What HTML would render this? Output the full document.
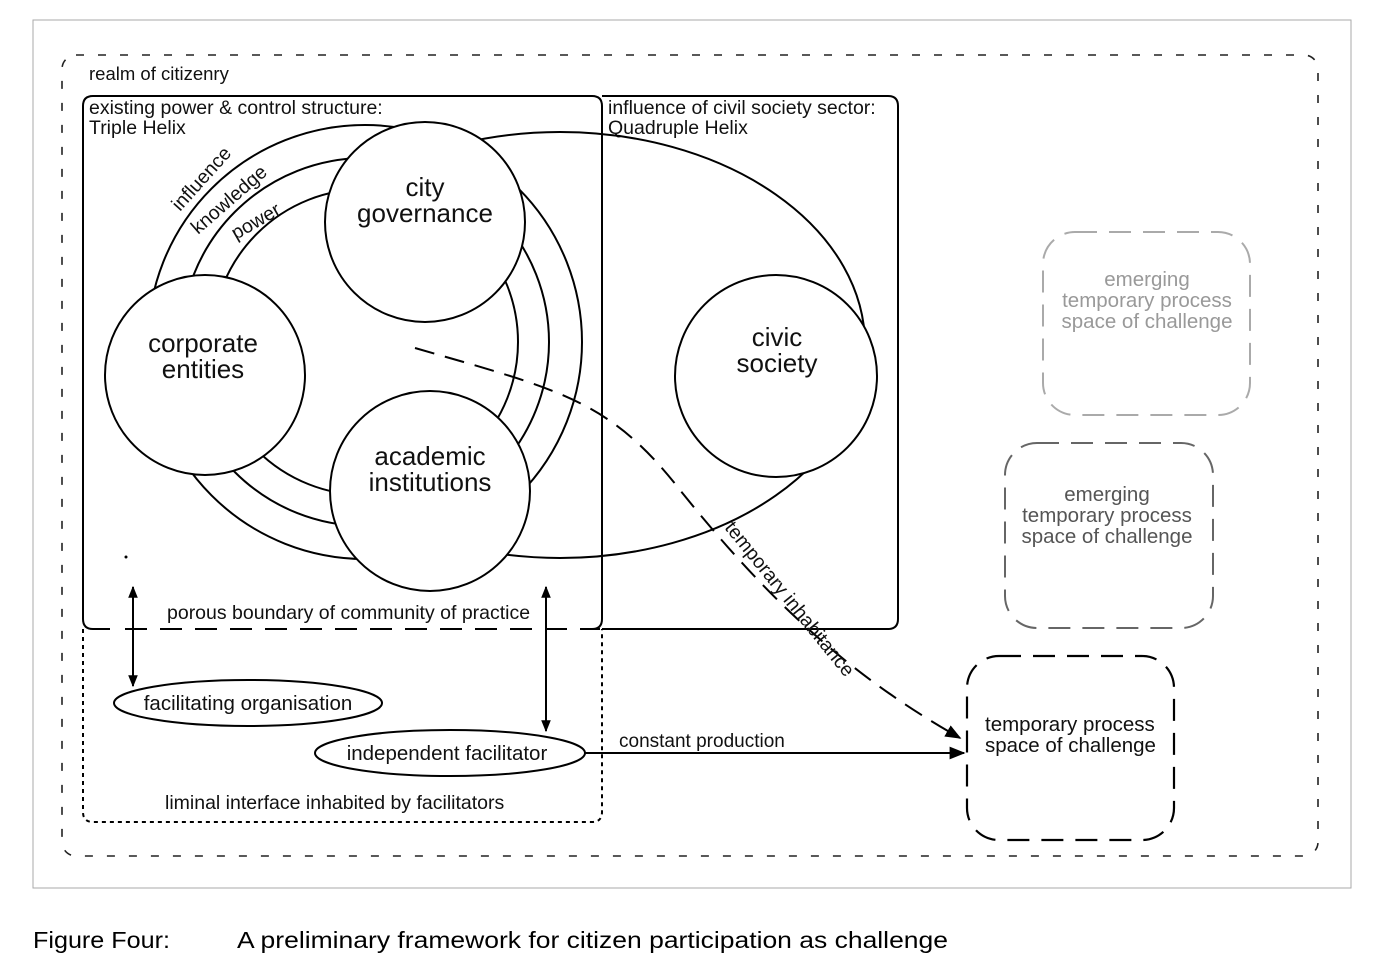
<!DOCTYPE html>
<html><head><meta charset="utf-8"><style>
html,body{margin:0;padding:0;background:#fff;width:1377px;height:960px;overflow:hidden}
svg{display:block}
text{font-family:"Liberation Sans",Arial,sans-serif;fill:#111}
</style></head><body>
<svg width="1377" height="960" viewBox="0 0 1377 960" xmlns="http://www.w3.org/2000/svg">
<defs>
<marker id="ah" viewBox="0 0 10 10" refX="9" refY="5" markerWidth="12" markerHeight="12" markerUnits="userSpaceOnUse" orient="auto-start-reverse"><path d="M0,1 L10,5 L0,9 z" fill="#000"/></marker>
<marker id="ah2" viewBox="0 0 10 10" refX="9" refY="5" markerWidth="16" markerHeight="16" markerUnits="userSpaceOnUse" orient="auto"><path d="M0,1 L10,5 L0,9 z" fill="#000"/></marker>
<clipPath id="cr"><rect x="462" y="0" width="600" height="960"/></clipPath>
</defs>
<rect x="33" y="20" width="1318" height="868" fill="#fff" stroke="#aaa" stroke-width="1"/>
<rect x="62" y="55" width="1256" height="801" rx="14" fill="none" stroke="#222" stroke-width="1.6" stroke-dasharray="8,14"/>
<text x="89" y="80" font-size="18.5">realm of citizenry</text>

<path d="M602,96 H888 Q898,96 898,106 V619 Q898,629 888,629 H602" fill="none" stroke="#000" stroke-width="2"/>
<path d="M110,629 H93 Q83,629 83,619 V106 Q83,96 93,96 H592 Q602,96 602,106 V619 Q602,629 592,629" fill="none" stroke="#000" stroke-width="2"/>
<line x1="125" y1="629" x2="600" y2="629" stroke="#000" stroke-width="2" stroke-dasharray="22,13"/>
<path d="M83,629 V812 Q83,822 93,822 H592 Q602,822 602,812 V629" fill="none" stroke="#000" stroke-width="2" stroke-dasharray="4,4"/>

<text x="89" y="114" font-size="19.5">existing power &amp; control structure:</text>
<text x="89" y="134" font-size="19.5">Triple Helix</text>
<text x="608" y="114" font-size="19.5">influence of civil society sector:</text>
<text x="608" y="134" font-size="19.5">Quadruple Helix</text>

<circle cx="365" cy="342" r="217" fill="none" stroke="#000" stroke-width="2"/>
<circle cx="365" cy="342" r="184" fill="none" stroke="#000" stroke-width="2"/>
<circle cx="365" cy="342" r="153" fill="none" stroke="#000" stroke-width="2"/>
<ellipse cx="560" cy="345" rx="305" ry="213" fill="none" stroke="#000" stroke-width="2" clip-path="url(#cr)"/>

<g fill="#fff" stroke="#000" stroke-width="2">
<circle cx="425" cy="222" r="100"/>
<circle cx="205" cy="375" r="100"/>
<circle cx="430" cy="491" r="100"/>
<circle cx="776" cy="376" r="101"/>
</g>
<g font-size="26" text-anchor="middle">
<text x="425" y="196">city</text><text x="425" y="222">governance</text>
<text x="203" y="352">corporate</text><text x="203" y="378">entities</text>
<text x="430" y="465">academic</text><text x="430" y="491">institutions</text>
<text x="777" y="346">civic</text><text x="777" y="372">society</text>
</g>
<g font-size="19.5">
<text transform="translate(180,212) rotate(-48)">influence</text>
<text transform="translate(198,235) rotate(-41)">knowledge</text>
<text transform="translate(236,240) rotate(-30)">power</text>
</g>
<circle cx="126" cy="557" r="1.5" fill="#000"/>

<path d="M415,348 C560,390 610,400 680,490 C760,590 840,670 960,738" fill="none" stroke="#000" stroke-width="2" stroke-dasharray="20,11" marker-end="url(#ah2)"/>
<text transform="translate(724,528) rotate(51)" font-size="19.5">temporary inhabitance</text>

<line x1="133" y1="587" x2="133" y2="686" stroke="#000" stroke-width="2" marker-start="url(#ah)" marker-end="url(#ah)"/>
<line x1="546" y1="587" x2="546" y2="731" stroke="#000" stroke-width="2" marker-start="url(#ah)" marker-end="url(#ah)"/>
<text x="167" y="619" font-size="19.5">porous boundary of community of practice</text>

<ellipse cx="248" cy="703" rx="134" ry="23" fill="#fff" stroke="#000" stroke-width="2"/>
<text x="248" y="710" font-size="20.5" text-anchor="middle">facilitating organisation</text>
<ellipse cx="450" cy="753" rx="135" ry="23" fill="#fff" stroke="#000" stroke-width="2"/>
<text x="447" y="760" font-size="20.5" text-anchor="middle">independent facilitator</text>
<text x="165" y="809" font-size="19.5">liminal interface inhabited by facilitators</text>

<line x1="585" y1="753" x2="964" y2="753" stroke="#000" stroke-width="2" marker-end="url(#ah2)"/>
<text x="619" y="747" font-size="19">constant production</text>

<rect x="1043" y="232" width="207" height="183" rx="32" fill="none" stroke="#aaa" stroke-width="2" stroke-dasharray="22,12"/>
<g font-size="20.5" text-anchor="middle">
<text x="1147" y="286" style="fill:#999">emerging</text>
<text x="1147" y="307" style="fill:#999">temporary process</text>
<text x="1147" y="328" style="fill:#999">space of challenge</text>
</g>
<rect x="1005" y="443" width="208" height="185" rx="32" fill="none" stroke="#666" stroke-width="2" stroke-dasharray="22,12"/>
<g font-size="20.5" text-anchor="middle">
<text x="1107" y="501" style="fill:#555">emerging</text>
<text x="1107" y="522" style="fill:#555">temporary process</text>
<text x="1107" y="543" style="fill:#555">space of challenge</text>
</g>
<rect x="967" y="656" width="207" height="184" rx="32" fill="none" stroke="#000" stroke-width="2.2" stroke-dasharray="22,12"/>
<text x="985" y="731" font-size="20.5">temporary process</text>
<text x="985" y="752" font-size="20.5">space of challenge</text>

<text x="33" y="948" font-size="23" textLength="137" lengthAdjust="spacingAndGlyphs" style="fill:#000">Figure Four:</text>
<text x="237" y="948" font-size="23" textLength="711" lengthAdjust="spacingAndGlyphs" style="fill:#000">A preliminary framework for citizen participation as challenge</text>
</svg>
</body></html>
